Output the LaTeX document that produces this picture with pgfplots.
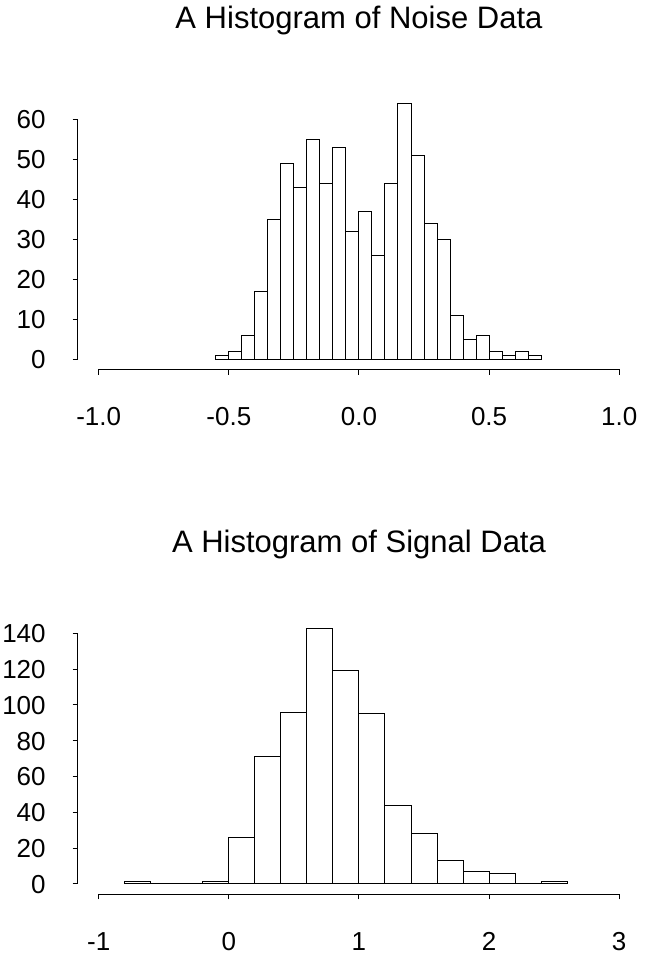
\documentclass[border=0pt]{standalone}
\usepackage{fontspec}
\setmainfont{Liberation Sans}
\usepackage{pgfplots}
\pgfplotsset{compat=1.18}

% R-style histogram frame: open axes, outward ticks, axis lines only over the tick range
\pgfplotsset{
  rhist/.style={
    scale only axis,
    width=421.58pt, height=207.15pt,
    anchor=south west,
    axis x line*=bottom, axis y line*=left,
    axis line style={draw=none},
    tick align=outside,
    major tick length=4pt,
    tick style={black, line width=0.75pt},
    clip=false,
    xticklabel style={anchor=base, inner sep=0pt, yshift=-38.5pt,
      font=\fontsize{19.5}{20}\selectfont},
    yticklabel style={anchor=base east, inner sep=0pt, xshift=-20pt, yshift=-7pt,
      font=\fontsize{19.5}{20}\selectfont},
    title style={anchor=base, at={(0.5,1)}, yshift=42.8pt,
      font=\fontsize{23.25}{24}\selectfont},
  },
  rbars/.style={ybar interval, fill=white, draw=black, line width=0.75pt},
}

\begin{document}
\begin{tikzpicture}
\path[use as bounding box] (0,0) rectangle (483pt,717.75pt);

% Noise histogram, bin width 0.05
\begin{axis}[rhist,
  at={(58.43pt,440.78pt)},
  xmin=-1.08, xmax=1.08, ymin=-2.56, ymax=66.56,
  xtick={-1,-0.5,0,0.5,1},
  xticklabels={-1.0,-0.5,0.0,0.5,1.0},
  ytick={0,10,20,30,40,50,60},
  yticklabels={0,10,20,30,40,50,60},
  title={A Histogram of Noise Data},
]
\addplot[rbars] coordinates {
  (-0.55,1) (-0.50,2) (-0.45,6) (-0.40,17) (-0.35,35)
  (-0.30,49) (-0.25,43) (-0.20,55) (-0.15,44) (-0.10,53)
  (-0.05,32) (0.00,37) (0.05,26) (0.10,44) (0.15,64)
  (0.20,51) (0.25,34) (0.30,30) (0.35,11) (0.40,5)
  (0.45,6) (0.50,2) (0.55,1) (0.60,2) (0.65,1) (0.70,1)
};
\draw[line width=0.75pt] (axis cs:-1,-2.56) -- (axis cs:1,-2.56);
\draw[line width=0.75pt] (axis cs:-1.08,0) -- (axis cs:-1.08,60);
\end{axis}

% Signal histogram, bin width 0.2
\begin{axis}[rhist,
  at={(58.43pt,47.25pt)},
  xmin=-1.16, xmax=3.16, ymin=-5.72, ymax=148.72,
  xtick={-1,0,1,2,3},
  xticklabels={-1,0,1,2,3},
  ytick={0,20,40,60,80,100,120,140},
  yticklabels={0,20,40,60,80,100,120,140},
  title={A Histogram of Signal Data},
]
\addplot[rbars] coordinates {
  (-0.8,1) (-0.6,0) (-0.4,0) (-0.2,1) (0.0,26) (0.2,71)
  (0.4,96) (0.6,143) (0.8,119) (1.0,95) (1.2,44) (1.4,28)
  (1.6,13) (1.8,7) (2.0,6) (2.2,0) (2.4,1) (2.6,1)
};
\draw[line width=0.75pt] (axis cs:-1,-5.72) -- (axis cs:3,-5.72);
\draw[line width=0.75pt] (axis cs:-1.16,0) -- (axis cs:-1.16,140);
\end{axis}
\end{tikzpicture}
\end{document}
